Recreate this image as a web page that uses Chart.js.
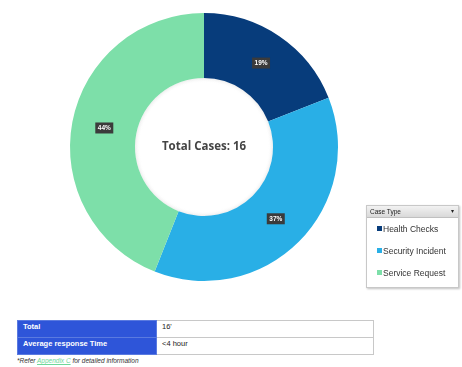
<!DOCTYPE html>
<html>
<head>
<meta charset="utf-8">
<script src="https://cdn.jsdelivr.net/npm/chart.js@4.4.0/dist/chart.umd.min.js"></script>
<style>
  body { margin: 0; width: 462px; height: 367px; background: #fff; font-family: "Liberation Sans", Arial, sans-serif; position: relative; overflow: hidden; }
  #wrap { position: absolute; left: 0; top: 0; width: 408px; height: 294px; }
  #legend { position: absolute; left: 366px; top: 205px; width: 91px; height: 81px; border: 1px solid #c8c8c8; box-shadow: 1px 1px 2px rgba(0,0,0,0.25); background: #fff; }
  #legend .head { height: 11px; background: linear-gradient(#f2f2f2, #d9d9d9); border-bottom: 1px solid #c0c0c0; font-size: 6.5px; line-height: 11px; padding-left: 3px; color: #222; position: relative; }
  #legend .head span { position: absolute; right: 4px; top: 0; font-size: 6px; }
  #legend .item { position: absolute; left: 10px; font-size: 8.5px; color: #333; white-space: nowrap; }
  #legend .item i { display: inline-block; width: 5px; height: 5px; margin-right: 1px; vertical-align: 1px; }
  table { position: absolute; left: 17px; top: 320px; width: 357px; border-collapse: collapse; font-size: 7.5px; }
  tr { height: 17px; }
  td { border: 1px solid #c8c8c8; padding: 1px 5px 0 5px; vertical-align: top; line-height: 10px; }
  td.k { background: #2e55d9; color: #fff; font-weight: bold; width: 128px; border-color: #5a7ae0; }
  td.v { color: #222; }
  #note { position: absolute; left: 17px; top: 357px; font-size: 6.5px; font-style: italic; color: #333; }
  #note a { color: #6fd79a; text-decoration: underline; }
</style>
</head>
<body>
<div id="wrap"><canvas id="grafico" width="408" height="294"></canvas></div>
<div id="legend"></div>
<table>
  <tr><td class="k">Total</td><td class="v">16'</td></tr>
  <tr><td class="k">Average response Time</td><td class="v">&lt;4 hour</td></tr>
</table>
<div id="note">*Refer <a>Appendix C</a> for detailed information</div>
<script>
const categorias = ['Health Checks', 'Security Incident', 'Service Request'];
const porcentajes = [19, 37, 44];
const colores = ['#073c7b', '#29afe6', '#7ddfa9'];
const tituloLeyenda = 'Case Type';
const textoCentro = 'Total Cases: 16';

// leyenda en html
const leyenda = document.getElementById('legend');
leyenda.innerHTML = `<div class="head">${tituloLeyenda}<span>&#9662;</span></div>`;
categorias.forEach((c, i) => {
  leyenda.insertAdjacentHTML('beforeend',
    `<div class="item" style="top:${18 + i * 22}px"><i style="background:${colores[i]}"></i>${c}</div>`);
});

const etiquetas = {
  id: 'etiquetas',
  afterDatasetsDraw(chart) {
    const ctx = chart.ctx;
    const meta = chart.getDatasetMeta(0);
    const arco = meta.data[0];
    ctx.save();
    ctx.font = 'bold 11.5px "Open Sans", "Liberation Sans", sans-serif';
    ctx.fillStyle = '#444';
    ctx.textAlign = 'center';
    ctx.textBaseline = 'middle';
    ctx.fillText(textoCentro, arco.x, arco.y);
    ctx.font = 'bold 6.5px "Liberation Sans", sans-serif';
    meta.data.forEach((a, i) => {
      const p = a.tooltipPosition();
      const txt = porcentajes[i] + '%';
      ctx.fillStyle = '#3b3b3b';
      ctx.fillRect(p.x - 9, p.y - 5.5, 18, 11);
      ctx.fillStyle = '#fff';
      ctx.fillText(txt, p.x, p.y + 0.5);
    });
    ctx.restore();
  }
};

// sombra suave dentro del hueco
const sombra = {
  id: 'sombra',
  beforeDatasetsDraw(chart) {
    const a = chart.getDatasetMeta(0).data[0];
    const ctx = chart.ctx;
    ctx.save();
    const g = ctx.createRadialGradient(a.x, a.y, a.innerRadius - 5, a.x, a.y, a.innerRadius);
    g.addColorStop(0, 'rgba(255,255,255,0)');
    g.addColorStop(1, 'rgba(0,0,0,0.07)');
    ctx.fillStyle = g;
    ctx.beginPath();
    ctx.arc(a.x, a.y, a.innerRadius, 0, Math.PI * 2);
    ctx.fill();
    ctx.restore();
  }
};

new Chart(document.getElementById('grafico'), {
  type: 'doughnut',
  data: {
    labels: categorias,
    datasets: [{
      data: porcentajes,
      backgroundColor: colores,
      borderWidth: 0
    }]
  },
  options: {
    responsive: false,
    animation: false,
    cutout: '51.5%',
    layout: { padding: 13 },
    plugins: {
      legend: { display: false },
      tooltip: { enabled: false }
    }
  },
  plugins: [sombra, etiquetas]
});
</script>
</body>
</html>
